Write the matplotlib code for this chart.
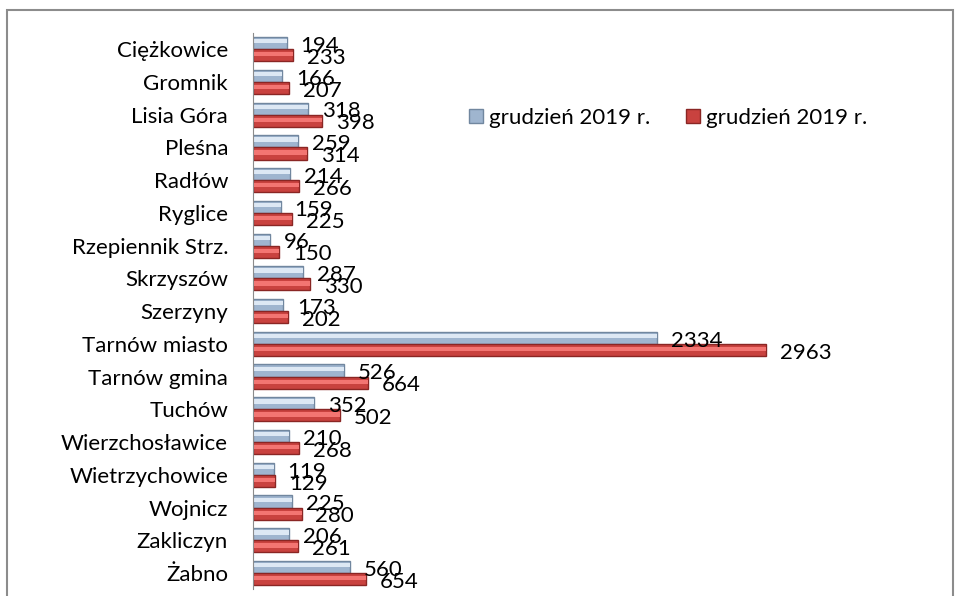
import numpy as np
import matplotlib.pyplot as plt
from matplotlib.patches import Rectangle

gminy = ['Ciężkowice', 'Gromnik', 'Lisia Góra', 'Pleśna', 'Radłów', 'Ryglice',
         'Rzepiennik Strz.', 'Skrzyszów', 'Szerzyny', 'Tarnów miasto',
         'Tarnów gmina', 'Tuchów', 'Wierzchosławice', 'Wietrzychowice',
         'Wojnicz', 'Zakliczyn', 'Żabno']
seria1 = [194, 166, 318, 259, 214, 159, 96, 287, 173, 2334, 526, 352, 210, 119, 225, 206, 560]
seria2 = [233, 207, 398, 314, 266, 225, 150, 330, 202, 2963, 664, 502, 268, 129, 280, 261, 654]
nazwa1 = 'grudzień 2019 r.'
nazwa2 = 'grudzień 2019 r.'

plt.rcParams['font.family'] = ['Lato', 'DejaVu Sans']
fs = 16

fig = plt.figure(figsize=(9.55, 5.96), dpi=100)
ax = fig.add_axes([0.265, 0.011, 0.64, 0.934])

y = np.arange(len(gminy))
h = 0.37
# bars with a lighter stripe, to mimic the excel bevel
b1 = ax.barh(y - h / 2, seria1, height=h, color='#9fb5cf', edgecolor='#71879f',
             linewidth=1, label=nazwa1)
ax.barh(y - h / 2 - h * 0.15, seria1, height=h * 0.35, color='#dde8f4', linewidth=0)
b2 = ax.barh(y + h / 2, seria2, height=h, color='#c9423f', edgecolor='#8a2624',
             linewidth=1, label=nazwa2)
ax.barh(y + h / 2 - h * 0.08, seria2, height=h * 0.35, color='#f37572', linewidth=0)

for yy, v in zip(y, seria1):
    ax.annotate(str(v), (v, yy - h / 2), xytext=(10, -2), textcoords='offset points',
                ha='left', va='center', fontsize=fs)
for yy, v in zip(y, seria2):
    ax.annotate(str(v), (v, yy + h / 2), xytext=(10, -2), textcoords='offset points',
                ha='left', va='center', fontsize=fs)

ax.set_yticks(y)
ax.set_yticklabels(gminy, fontsize=fs)
ax.set_ylim(len(gminy) - 0.5, -0.5)
ax.set_xlim(0, 3530)
ax.set_xticks([])
ax.tick_params(axis='y', length=0, pad=18)
for s in ['top', 'right', 'bottom']:
    ax.spines[s].set_visible(False)
ax.spines['left'].set_color('#8c8c8c')

fig.legend(handles=[b1, b2], labels=[nazwa1, nazwa2], loc='center',
           bbox_to_anchor=(0.7, 0.802), ncol=2, frameon=False, fontsize=fs,
           handlelength=0.6, handleheight=0.6, handletextpad=0.3, columnspacing=1.6)

fig.patches.append(Rectangle((0.007, -0.05), 0.991, 1.033, transform=fig.transFigure,
                             fill=False, edgecolor='#8c8c8c', linewidth=1.5))

plt.savefig('out.png')
